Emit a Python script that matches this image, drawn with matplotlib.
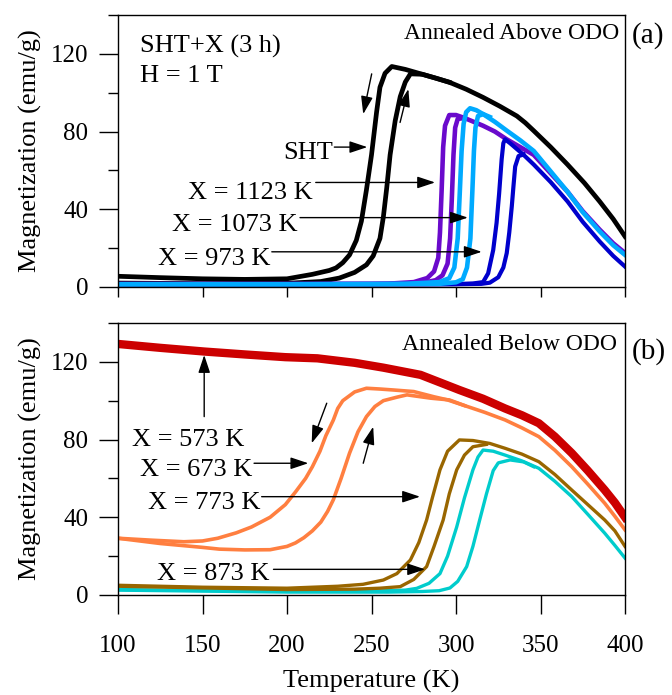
import matplotlib
matplotlib.use('Agg')
import matplotlib.pyplot as plt
from matplotlib.ticker import MultipleLocator

plt.rcParams['font.family'] = ['Liberation Serif', 'DejaVu Serif']
plt.rcParams['font.size'] = 18

# ---- panel (a): annealed above ODO ----
sht_cool_T = [100, 125, 150, 175, 200, 215, 225, 229, 233, 237, 241, 244, 247, 250, 253, 255, 258, 262, 270, 280, 288, 296, 306, 316, 326, 336, 341, 346, 356, 366, 376, 385, 393, 400]
sht_cool_M = [5.5, 4.8, 4.2, 3.9, 4.2, 6.5, 8.5, 9.8, 12.5, 16.5, 24, 33.8, 50, 68, 90, 102.8, 110, 113.5, 112, 109.5, 107.5, 105.4, 101.8, 97.6, 93, 88, 84.5, 80.4, 72, 63, 53.5, 44, 35, 26]
sht_heat_T = [100, 150, 200, 220, 231, 240, 247, 251, 255, 257, 259, 261, 264, 267, 270, 273, 280, 288, 296]
sht_heat_M = [2.0, 1.7, 1.9, 2.8, 4.6, 7.5, 11.4, 16, 25, 36, 51, 68, 85.5, 98, 105.5, 109.7, 109.5, 107.5, 105.4]

x1123_cool_T = [100, 200, 260, 275, 283, 287, 289.5, 290.5, 291.5, 292.4, 293.5, 296, 300, 305, 316, 323, 330, 338, 346, 356, 366, 375, 385, 393, 400]
x1123_cool_M = [1.5, 1.5, 1.7, 2.5, 4.6, 8, 15, 28, 50, 72, 83, 88.5, 88.5, 87, 83, 80, 76, 72, 68, 58.5, 49, 39, 29.5, 22.5, 17.5]
x1123_heat_T = [100, 250, 280, 288, 292, 295, 296.5, 297.5, 298.5, 299.5, 301, 305]
x1123_heat_M = [1.5, 1.5, 2, 3.5, 6, 12, 25, 45, 68, 82, 86.5, 87]

x1073_cool_T = [100, 200, 270, 290, 296, 299, 301, 302.3, 303.3, 304.5, 306, 308.3, 312, 316, 323, 330, 338, 346, 356, 366, 375, 385, 393, 400]
x1073_cool_M = [1.4, 1.4, 1.6, 2.5, 4.5, 10, 25, 50, 70, 84, 90, 92, 91, 89, 85, 80.5, 75.5, 70, 59.5, 49, 38.5, 28.6, 21.5, 16.5]
x1073_heat_T = [100, 250, 290, 300, 304, 306.5, 308.5, 309.7, 310.6, 311.5, 313, 316, 320]
x1073_heat_M = [1.4, 1.4, 1.6, 2.4, 4, 10, 25, 50, 70, 82, 88, 89, 87.5]

x973_cool_T = [100, 200, 280, 300, 310, 316, 319, 322, 324, 325.5, 327, 328, 329, 332, 336, 340, 346, 356, 366, 375, 385, 393, 400]
x973_cool_M = [1.4, 1.4, 1.4, 1.5, 1.8, 2.5, 7, 19, 33, 48, 65.7, 74, 76, 74, 71, 68, 63, 54, 44, 33.5, 23.4, 16, 10.5]
x973_heat_T = [100, 250, 300, 315, 320, 325, 328, 330, 331.5, 333, 334, 335, 337, 340]
x973_heat_M = [1.4, 1.4, 1.4, 1.6, 2.2, 5, 10, 17.4, 28, 41.5, 52, 62, 67.4, 68.2]

# ---- panel (b): annealed below ODO ----
x573_T = [100, 125, 151, 175, 199, 218, 240, 257, 279, 302, 316, 329, 339, 349, 358.5, 368.5, 378, 388, 394, 400]
x573_M = [129.2, 127.2, 125.3, 123.8, 122.4, 121.8, 119.5, 117, 113.3, 105.5, 101, 96, 92.5, 88.4, 81.5, 73, 64, 54, 47.5, 40]

x673_cool_T = [100, 120, 139, 150, 159, 170, 179, 190, 199, 205, 211, 215, 219.5, 223, 227.4, 230, 233, 240, 247, 255, 263, 275, 287, 295, 305, 317, 329, 339, 349, 358.5, 368.5, 378, 388, 394, 400]
x673_cool_M = [29.2, 28.2, 27.4, 27.8, 29.2, 32, 35, 40, 46.5, 53, 60, 66, 74, 82, 90, 96, 100, 104.5, 106.4, 106, 105.5, 104.7, 102, 100.4, 97.5, 94, 90.1, 86, 81.5, 74.5, 66, 57, 47.2, 40.5, 33.5]
x673_heat_T = [100, 125, 150, 160, 175, 190, 200, 205, 210, 215, 220, 224, 227.4, 232, 237, 242, 247, 252, 257, 265, 271, 285, 296, 305]
x673_heat_M = [29.2, 26.5, 24.5, 23.6, 23.2, 23.3, 25, 26.8, 29.5, 33, 37.5, 43, 49, 60, 73, 84, 91.8, 97, 100, 101.8, 103, 101.3, 100.4, 97.5]

x773_cool_T = [100, 150, 200, 230, 245, 257, 265, 273, 278, 282.6, 286, 290.5, 295, 302, 310, 320, 329, 339, 349, 358.5, 368.5, 378, 388, 394, 400]
x773_cool_M = [5, 4, 3.5, 4.5, 5.5, 7.7, 11, 18, 27, 38.6, 50, 64.4, 74, 79.8, 79.5, 78, 75.5, 72.5, 68.6, 62, 54, 46.5, 38.6, 33, 25]
x773_heat_T = [100, 200, 240, 255, 267, 275, 282.6, 287, 292.4, 296, 300.4, 305, 310, 318]
x773_heat_M = [4.5, 2.8, 3, 3.5, 4.3, 8, 14.6, 25, 38.6, 52, 64.4, 72, 76.3, 77.5]

x873_cool_T = [100, 150, 200, 250, 270, 276.7, 284, 290.5, 295, 300.4, 305, 310, 313, 316, 322, 329, 339, 349, 358.5, 368.5, 378, 388, 394, 400]
x873_cool_M = [2.8, 2.3, 2, 2, 2.5, 3.4, 6, 11, 20, 35, 50, 64.4, 71, 74.6, 74, 72, 69, 65.2, 58.5, 50.6, 41.5, 31.8, 25.5, 19]
x873_heat_T = [100, 200, 260, 280, 290, 296.4, 301, 306.3, 310, 314, 318, 322, 325, 332, 340, 346]
x873_heat_M = [2.5, 1.5, 1.5, 1.8, 2.2, 3.6, 7, 14.6, 25, 38.6, 52, 64, 68, 69.5, 68.5, 66]

fig = plt.figure(figsize=(6.72, 6.95), dpi=100)
ax1 = fig.add_axes([0.1756, 0.5871, 0.7545, 0.3913])
ax2 = fig.add_axes([0.1756, 0.1439, 0.7545, 0.3914])

# panel (a) curves
ax1.plot(sht_cool_T, sht_cool_M, color='black', lw=3.4)
ax1.plot(sht_heat_T, sht_heat_M, color='black', lw=3.4)
ax1.plot(x1123_cool_T, x1123_cool_M, color='#6a0acc', lw=3.3)
ax1.plot(x1123_heat_T, x1123_heat_M, color='#6a0acc', lw=3.3)
ax1.plot(x973_cool_T, x973_cool_M, color='#0000cc', lw=3.0)
ax1.plot(x973_heat_T, x973_heat_M, color='#0000cc', lw=3.0)
ax1.plot(x1073_cool_T, x1073_cool_M, color='#00aaff', lw=3.3)
ax1.plot(x1073_heat_T, x1073_heat_M, color='#00aaff', lw=3.3)

# panel (b) curves
ax2.plot(x873_cool_T, x873_cool_M, color='#00cccc', lw=2.4)
ax2.plot(x873_heat_T, x873_heat_M, color='#00cccc', lw=2.4)
ax2.plot(x773_cool_T, x773_cool_M, color='#996600', lw=2.4)
ax2.plot(x773_heat_T, x773_heat_M, color='#996600', lw=2.4)
ax2.plot(x673_cool_T, x673_cool_M, color='#ff7f40', lw=2.6)
ax2.plot(x673_heat_T, x673_heat_M, color='#ff7f40', lw=2.6)
ax2.plot(x573_T, x573_M, color='#cc0000', lw=6)

for ax in (ax1, ax2):
    ax.set_xlim(100, 400)
    ax.set_ylim(0, 140)
    ax.xaxis.set_major_locator(MultipleLocator(50))
    ax.yaxis.set_major_locator(MultipleLocator(40))
    ax.yaxis.set_minor_locator(MultipleLocator(20))
    ax.tick_params(direction='out', top=False, right=False, labelsize=18)
    ax.tick_params(axis='y', which='major', length=13.5, width=1, pad=8)
    ax.tick_params(axis='y', which='minor', length=7, width=1)
    ax.set_ylabel('Magnetization (emu/g)', fontsize=19, labelpad=6)
    for s in ax.spines.values():
        s.set_linewidth(1)

ax1.tick_params(axis='x', length=7, width=1, labelbottom=False)
ax2.tick_params(axis='x', length=14, width=1, pad=15)
ax2.set_xlabel('Temperature (K)', fontsize=19, labelpad=9)


def arrow(ax, tail, head):
    ax.annotate('', xy=head, xytext=tail,
                arrowprops=dict(arrowstyle='-|>,head_length=0.6,head_width=0.2',
                                color='black', lw=1, shrinkA=0, shrinkB=0))


# panel (a) text
ax1.text(113, 120.9, 'SHT+X (3 h)', fontsize=19)
ax1.text(113, 105.4, 'H = 1 T', fontsize=19)
ax1.text(396.5, 127.8, 'Annealed Above ODO', fontsize=17, ha='right')
ax1.text(1.013, 0.897, '(a)', fontsize=21, transform=ax1.transAxes)
ax1.text(227, 65.7, 'SHT', fontsize=19, ha='right')
ax1.text(215.5, 45.5, 'X = 1123 K', fontsize=19, ha='right')
ax1.text(206, 28.6, 'X = 1073 K', fontsize=19, ha='right')
ax1.text(190.5, 11.4, 'X = 973 K', fontsize=19, ha='right')
arrow(ax1, (228, 72), (247.5, 72))
arrow(ax1, (217, 53.8), (287.6, 53.8))
arrow(ax1, (207.7, 35.7), (307, 35.7))
arrow(ax1, (191, 18.1), (315.2, 18.1))
arrow(ax1, (250.1, 109.7), (245.1, 89))
arrow(ax1, (266.9, 84.7), (271.8, 101.9))

# panel (b) text
ax2.text(395, 126.1, 'Annealed Below ODO', fontsize=17, ha='right')
ax2.text(1.013, 0.870, '(b)', fontsize=21, transform=ax2.transAxes)
ax2.text(108, 76.9, 'X = 573 K', fontsize=19)
ax2.text(113, 61.4, 'X = 673 K', fontsize=19)
ax2.text(118, 44.3, 'X = 773 K', fontsize=19)
ax2.text(123, 7.7, 'X = 873 K', fontsize=19)
arrow(ax2, (151, 91.8), (151, 123.5))
arrow(ax2, (180.5, 67.8), (212.6, 67.8))
arrow(ax2, (185, 50.6), (278.7, 50.6))
arrow(ax2, (192, 13.2), (281.7, 13.2))
arrow(ax2, (223.5, 98.7), (214.6, 78.1))
arrow(ax2, (245.1, 67.8), (251, 86.6))

fig.savefig('out.png', dpi=100)
